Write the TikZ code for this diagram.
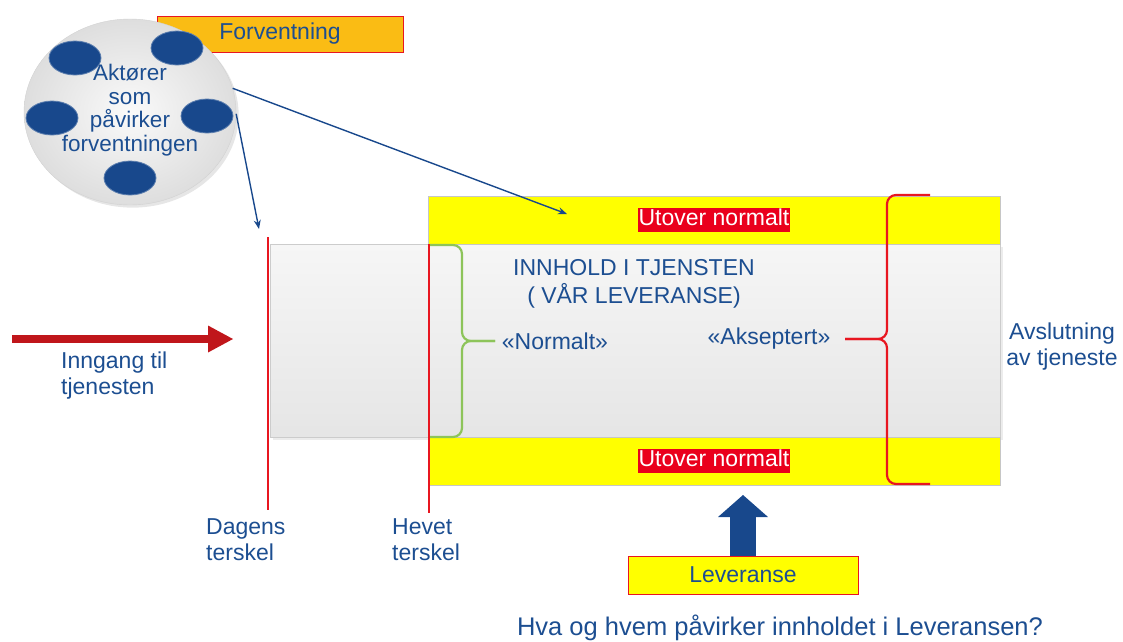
\documentclass[tikz,border=0pt]{standalone}
\usepackage{fontspec}
\setmainfont{Liberation Sans}
\usetikzlibrary{shapes.geometric,arrows.meta,positioning,calc,shadows}
\definecolor{txtBlue}{RGB}{28,78,145}
\definecolor{dotBlue}{RGB}{24,72,140}
\definecolor{bandYellow}{RGB}{255,255,0}
\definecolor{lineRed}{RGB}{232,22,32}
\definecolor{tagRed}{RGB}{234,0,28}
\definecolor{arrRed}{RGB}{192,22,27}
\definecolor{expOrange}{RGB}{250,188,20}
\definecolor{braceGreen}{RGB}{141,196,90}
\tikzset{
    lbl/.style={
        font=\fontsize{23}{26}\selectfont,
        text=txtBlue,
        align=center,
        inner sep=0pt
    },
    box/.style={
        draw=lineRed,
        line width=0.8pt,
        font=\fontsize{23}{26}\selectfont,
        text=txtBlue,
        inner sep=0pt
    },
    % Bands and tags
    band/.style={draw=gray!45, fill=bandYellow, minimum width=572pt, minimum height=48pt, inner sep=0pt},
    tag/.style={fill=tagRed, text=white, font=\fontsize{23}{26}\selectfont,
        inner xsep=1pt, inner ysep=0pt, text height=17.5pt, text depth=6pt},
    % Lines
    thr/.style={lineRed, line width=2pt},
    pointer/.style={dotBlue, line width=1.4pt, -{Stealth[length=9pt,width=7pt]}},
    curly/.style={line width=2.2pt, rounded corners=9pt}
}
\begin{document}
\begin{tikzpicture}[
    x=1pt, y=-1pt,
    dot/.style={ellipse, fill=dotBlue, draw=dotBlue!70!white, line width=0.8pt, minimum width=52pt, minimum height=34pt},
    fatArr/.style={line width=#1}
]
\useasboundingbox (0,0) rectangle (1123,641);

% Expectation and actors
\node[box, fill=expOrange, minimum width=246pt, minimum height=36pt] (forv) at (280,34) {Forventning};
\node[ellipse, draw=gray!35, shading=radial, inner color=gray!4, outer color=gray!26,
      minimum width=212pt, minimum height=186pt, drop shadow={opacity=0.2}] (actors) at (130,112) {};
\foreach \i/\p in {1/{75,58}, 2/{177,48}, 3/{52,118}, 4/{207,116}, 5/{130,178}}
    \node[dot] (dot\i) at (\p) {};
\node[lbl, font=\fontsize{22.5}{23.5}\selectfont] (actxt) at (130,110) {Aktører\\som\\påvirker\\forventningen};

% Service tube
\node[draw=gray!40, top color=gray!7, bottom color=gray!20, minimum width=730pt, minimum height=193pt,
      inner sep=0pt, drop shadow={opacity=0.15}] (tube) at (635,340.5) {};
\node[band] (bandT) at (714,220) {};
\node[band] (bandB) at (714,461) {};
\node[tag] (tagT) at (714,220) {Utover normalt};
\node[tag] (tagB) at (714,461) {Utover normalt};
\node[lbl, font=\fontsize{23}{28}\selectfont] (innhold) at (634,284) {INNHOLD I TJENSTEN\\( VÅR LEVERANSE)};
\node[lbl] (norm) at (555,341) {«Normalt»};
\node[lbl] (aksept) at (769,339) {«Akseptert»};
\node[lbl] (avsl) at (1062,347) {Avslutning\\ av tjeneste};

% Thresholds
\coordinate (dagTop) at (268,237);
\coordinate (dagBot) at (268,510);
\coordinate (hevTop) at (429,244);
\coordinate (hevBot) at (429,513);
\draw[thr] (dagTop) -- (dagBot);
\draw[thr] (hevTop) -- (hevBot);
\node[lbl, align=left, anchor=west] (dagens) at (206,540) {Dagens\\terskel};
\node[lbl, align=left, anchor=west] (hevet) at (392,540) {Hevet\\terskel};

% Braces
\draw[curly, braceGreen] (430,245) -| (462,341) -- (495,341);
\draw[curly, braceGreen] (430,437) -| (462,341) -- (495,341);
\draw[curly, lineRed] (930,195) -| (887,339) -- (845,339);
\draw[curly, lineRed] (930,484) -| (887,339) -- (845,339);

% Entry
\coordinate (inStart) at (12,339);
\coordinate (inEnd) at (233,339);
\draw[fatArr=8.5pt, arrRed, -{Triangle[length=25pt,width=27pt,line width=0pt]}] (inStart) -- (inEnd);
\node[lbl, align=left, anchor=west] (inngang) at (61,376) {Inngang til\\tjenesten};

% Pointers from actors
\coordinate (ptBand) at (567,214);
\coordinate (ptDag) at (259,229);
\draw[pointer] (actors.13) -- (ptBand);
\draw[pointer] (actors.-1) -- (ptDag);

% Delivery
\node[box, fill=bandYellow, minimum width=230pt, minimum height=38pt] (lev) at (743,575) {Leveranse};
\coordinate (levTip) at (743,495);
\draw[fatArr=26pt, dotBlue, -{Triangle[length=22pt,width=50pt,line width=0pt]}] (lev.north) -- (lev.north |- levTip);
\node[lbl, font=\fontsize{25.5}{28}\selectfont] (quest) at (780,628) {Hva og hvem påvirker innholdet i Leveransen?};
\end{tikzpicture}
\end{document}
